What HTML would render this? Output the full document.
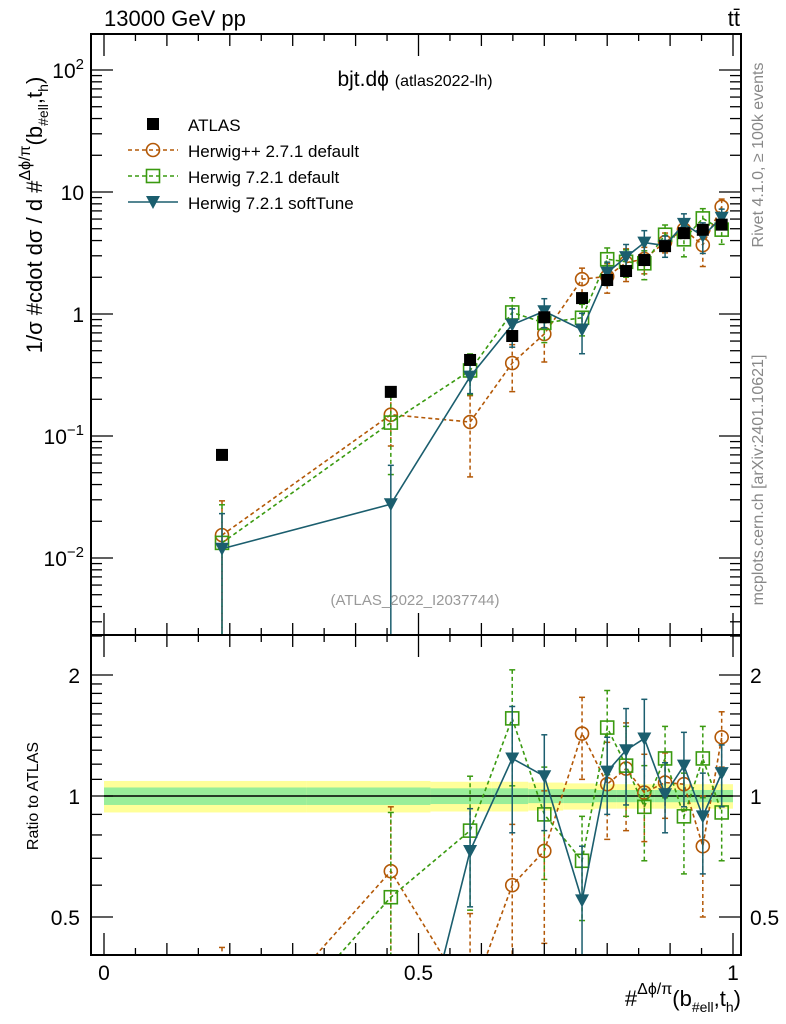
<!DOCTYPE html>
<html><head><meta charset="utf-8"><style>
html,body{margin:0;background:#fff;width:786px;height:1024px;overflow:hidden}
svg{font-family:"Liberation Sans",sans-serif;display:block}
</style></head><body>
<svg id="c" width="786" height="1024" xmlns="http://www.w3.org/2000/svg"></svg>
<script>
const xs=[0.1876,0.456,0.582,0.649,0.700,0.760,0.800,0.830,0.859,0.892,0.922,0.952,0.982];
const atlas=[0.070,0.23,0.42,0.66,0.94,1.35,1.9,2.25,2.77,3.6,4.6,4.9,5.4];
const atlasErr=[0.004,0.012,0.02,0.03,0.04,0.05,0.07,0.08,0.1,0.12,0.15,0.16,0.18];
const hppRatio=[0.22,0.65,0.31,0.60,0.73,1.43,1.07,1.17,1.02,1.08,1.07,0.75,1.40];
const hppErr=[0.2,0.29,0.2,0.25,0.3,0.33,0.29,0.35,0.25,0.2,0.15,0.25,0.22];
const h7Ratio=[0.19,0.56,0.82,1.56,0.90,0.69,1.48,1.19,0.94,1.24,0.89,1.24,0.91];
const h7Err=[0.2,0.35,0.3,0.5,0.28,0.2,0.35,0.3,0.25,0.25,0.25,0.25,0.22];
const softRatio=[0.17,0.12,0.73,1.24,1.12,0.55,1.15,1.30,1.39,1.01,1.19,0.89,1.14];
const softErr=[0.16,0.13,0.2,0.43,0.3,0.2,0.25,0.35,0.35,0.2,0.25,0.25,0.2];
const bandStat=[0.05,0.05,0.045,0.045,0.04,0.04,0.035,0.035,0.035,0.035,0.035,0.035,0.035];
const bandTot=[0.09,0.09,0.085,0.085,0.08,0.075,0.07,0.07,0.07,0.07,0.07,0.07,0.07];
const ns="http://www.w3.org/2000/svg",svg=document.getElementById('c');
function el(t,a,p){const e=document.createElementNS(ns,t);for(const k in a)e.setAttribute(k,a[k]);(p||svg).appendChild(e);return e;}
const X=v=>104+v*629;
const YM=v=>314-122*Math.log10(v);
const YR=v=>796-121*Math.log2(v);
const L=91,R=741,T=34,MB=635,RB=955;
const d=el('defs',{});
const c1=el('clipPath',{id:'cm'},d);el('rect',{x:L,y:T,width:R-L,height:MB-T},c1);
const c2=el('clipPath',{id:'cr'},d);el('rect',{x:L,y:MB,width:R-L,height:RB-MB},c2);
const gb=el('g',{'clip-path':'url(#cr)'});

for(let i=0;i<xs.length;i++){
 const a=i==0?0:(xs[i-1]+xs[i])/2,b=i==xs.length-1?1:(xs[i]+xs[i+1])/2;
 el('rect',{x:X(a),y:YR(1+bandTot[i]),width:X(b)-X(a),height:YR(1-bandTot[i])-YR(1+bandTot[i]),fill:'#ffff99'},gb);
 el('rect',{x:X(a),y:YR(1+bandStat[i]),width:X(b)-X(a),height:YR(1-bandStat[i])-YR(1+bandStat[i]),fill:'#99ee99'},gb);
}
el('line',{x1:X(0),x2:X(1),y1:YR(1),y2:YR(1),stroke:'#000','stroke-width':1.5});
const series=[
 {n:'herwigpp-271',r:hppRatio,e:hppErr,c:'#b35806',dash:'4,3',m:'circle'},
 {n:'herwig-721',r:h7Ratio,e:h7Err,c:'#3a9a10',dash:'4,3',m:'square'},
 {n:'herwig-721-softtune',r:softRatio,e:softErr,c:'#1b5e6e',dash:null,m:'tri'}];
function marker(g,m,x,y,c){
 if(m=='circle')el('circle',{cx:x,cy:y,r:6.5,fill:'none',stroke:c,'stroke-width':1.6},g);
 else if(m=='square')el('rect',{x:x-6.5,y:y-6.5,width:13,height:13,fill:'none',stroke:c,'stroke-width':1.6},g);
 else if(m=='tri')el('path',{d:`M${x-7},${y-6}L${x+7},${y-6}L${x},${y+7}Z`,fill:c},g);
 else el('rect',{x:x-6,y:y-6,width:12,height:12,fill:c},g);
}
function draw(clip,Y,vals,errs,s,name){
 const g=el('g',{'clip-path':clip});
 
 const pts=vals.map((v,i)=>X(xs[i])+','+Y(v)).join(' ');
 const pa={points:pts,fill:'none',stroke:s.c,'stroke-width':1.6};if(s.dash)pa['stroke-dasharray']=s.dash;
 el('polyline',pa,g);
 vals.forEach((v,i)=>{const x=X(xs[i]);const lo=Math.max(v-errs[i],1e-6),hi=v+errs[i];
  const la={x1:x,x2:x,y1:Y(hi),y2:Y(lo),stroke:s.c,'stroke-width':1.5};if(s.dash)la['stroke-dasharray']=s.dash;el('line',la,g);
  el('line',{x1:x-3,x2:x+3,y1:Y(hi),y2:Y(hi),stroke:s.c,'stroke-width':1.5},g);
  el('line',{x1:x-3,x2:x+3,y1:Y(lo),y2:Y(lo),stroke:s.c,'stroke-width':1.5},g);
  marker(g,s.m,x,Y(v),s.c);});
}
series.forEach(s=>{
 const mv=s.r.map((r,i)=>r*atlas[i]),me=s.e.map((e,i)=>e*atlas[i]);
 draw('url(#cm)',YM,mv,me,s,s.n+'-main');
 draw('url(#cr)',YR,s.r,s.e,s,s.n+'-ratio');
});
const ga=el('g',{'clip-path':'url(#cm)'});

atlas.forEach((v,i)=>{const x=X(xs[i]);el('line',{x1:x,x2:x,y1:YM(v+atlasErr[i]),y2:YM(v-atlasErr[i]),stroke:'#000'},ga);marker(ga,'sq',x,YM(v),'#000');});
el('rect',{x:L,y:T,width:R-L,height:MB-T,fill:'none',stroke:'#000','stroke-width':2});
el('rect',{x:L,y:MB,width:R-L,height:RB-MB,fill:'none',stroke:'#000','stroke-width':2});
for(let k=0;k<=20;k++){const v=k*0.05,x=X(v),len=k%10==0?22:(k%2==0?12:7);
 [[T,1],[MB,-1],[MB,1],[RB,-1]].forEach(([y,s])=>el('line',{x1:x,x2:x,y1:y,y2:y+s*len,stroke:'#000','stroke-width':1.3}));}
for(let dcd=-3;dcd<=2;dcd++)for(let m=1;m<10;m++){const v=m*Math.pow(10,dcd),y=YM(v);if(y<T||y>MB)continue;const len=m==1?22:11;
 el('line',{x1:L,x2:L+len,y1:y,y2:y,stroke:'#000','stroke-width':1.3});el('line',{x1:R,x2:R-len,y1:y,y2:y,stroke:'#000','stroke-width':1.3});}
const rt=[0.4,0.5,0.6,0.7,0.8,0.9,1,1.1,1.2,1.3,1.4,1.5,1.6,1.7,1.8,1.9,2,2.5];
rt.forEach(v=>{const y=YR(v);if(y<MB||y>RB)return;const len=(v==0.5||v==1||v==2)?22:11;
 el('line',{x1:L,x2:L+len,y1:y,y2:y,stroke:'#000','stroke-width':1.3});el('line',{x1:R,x2:R-len,y1:y,y2:y,stroke:'#000','stroke-width':1.3});});
function txt(s,a,name){const t=el('text',a);t.innerHTML=s;return t;}
const yl=[['10<tspan dy="-9" font-size="15">2</tspan>',100,'ytick-100'],['10',10,'ytick-10'],['1',1,'ytick-1'],['10<tspan dy="-9" font-size="15">−1</tspan>',0.1,'ytick-0.1'],['10<tspan dy="-9" font-size="15">−2</tspan>',0.01,'ytick-0.01']];
yl.forEach(([s,v,n])=>txt(s,{x:84,y:YM(v)+8,'text-anchor':'end','font-size':21},n));
[['2',2],['1',1],['0.5',0.5]].forEach(([s,v])=>{txt(s,{x:80,y:YR(v)+8,'text-anchor':'end','font-size':21},'ratio-ytick-'+s);txt(s,{x:750,y:YR(v)+8,'font-size':21},'ratio-ytick-right-'+s);});
[['0',0],['0.5',0.5],['1',1]].forEach(([s,v])=>txt(s,{x:X(v),y:980,'text-anchor':'middle','font-size':21},'xtick-'+s));
txt('13000 GeV pp',{x:104,y:26,'font-size':22},'energy-label');
txt('tt̄',{x:740,y:26,'font-size':22,'text-anchor':'end'},'process-label');
txt('bjt.dϕ <tspan font-size="16">(atlas2022-lh)</tspan>',{x:415,y:86,'text-anchor':'middle','font-size':21},'plot-title');
txt('(ATLAS_2022_I2037744)',{x:415,y:605,'text-anchor':'middle','font-size':15,fill:'#999'},'analysis-id');
txt('Rivet 4.1.0, ≥ 100k events',{x:0,y:0,'font-size':16,fill:'#888','text-anchor':'middle',transform:'translate(763,155) rotate(-90)'},'rivet-label');
txt('mcplots.cern.ch [arXiv:2401.10621]',{x:0,y:0,'font-size':16,fill:'#888','text-anchor':'middle',transform:'translate(763,480) rotate(-90)'},'mcplots-label');
txt('1/σ #cdot dσ / d #<tspan font-size="16" dy="-12">Δϕ/π</tspan><tspan dy="12">(b</tspan><tspan font-size="14" dy="6">#ell</tspan><tspan dy="-6">,t</tspan><tspan font-size="14" dy="6">h</tspan><tspan dy="-6">)</tspan>',{x:0,y:0,'font-size':22,'text-anchor':'middle',transform:'translate(42,215) rotate(-90)'},'y-axis-title');
txt('Ratio to ATLAS',{x:0,y:0,'font-size':16,'text-anchor':'middle',transform:'translate(38,796) rotate(-90)'},'ratio-axis-title');
txt('#<tspan font-size="16" dy="-12">Δϕ/π</tspan><tspan dy="12">(b</tspan><tspan font-size="14" dy="6">#ell</tspan><tspan dy="-6">,t</tspan><tspan font-size="14" dy="6">h</tspan><tspan dy="-6">)</tspan>',{x:741,y:1006,'font-size':22,'text-anchor':'end'},'x-axis-title');
const leg=[['ATLAS','sq','#000',null,'none'],['Herwig++ 2.7.1 default','circle','#b35806','4,3'],['Herwig 7.2.1 default','square','#3a9a10','4,3'],['Herwig 7.2.1 softTune','tri','#1b5e6e',null]];
leg.forEach((l,i)=>{const y=124+i*26;const g=el('g',{});
 
 if(l[4]!='none'){const a={x1:128,x2:178,y1:y,y2:y,stroke:l[2],'stroke-width':1.5};if(l[3])a['stroke-dasharray']=l[3];el('line',a,g);}
 marker(g,l[1],153,y,l[2]);
 const t=el('text',{x:188,y:y+7,'font-size':17},g);t.textContent=l[0];});
</script>
</body></html>
